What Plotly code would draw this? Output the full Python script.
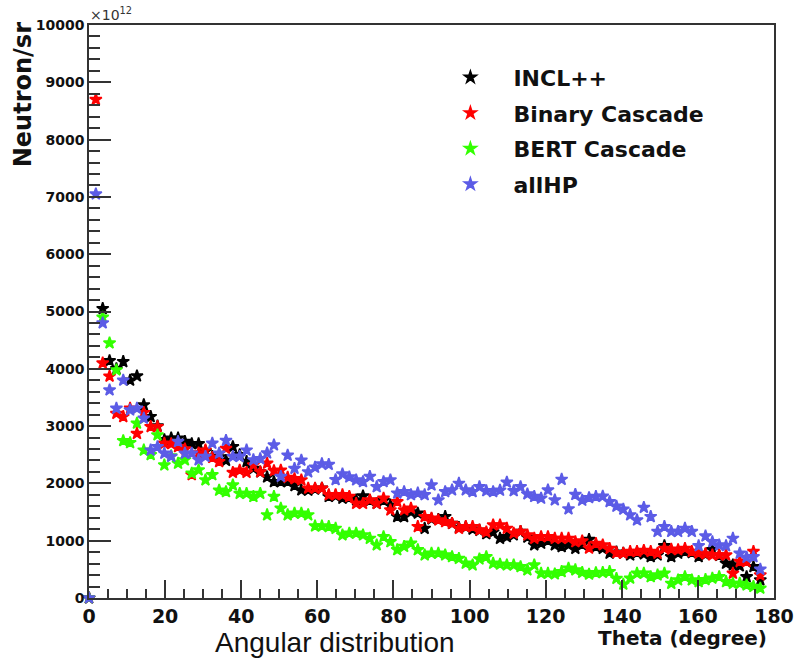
import plotly.graph_objects as go

# bin centres (degree)
theta = [0.0, 1.8, 3.6, 5.4, 7.2, 9.0, 10.8, 12.6, 14.4, 16.2, 18.0, 19.8, 21.6, 23.4, 25.2, 27.0,
         28.8, 30.6, 32.4, 34.2, 36.0, 37.8, 39.6, 41.4, 43.2, 45.0, 46.8, 48.6, 50.4, 52.2, 54.0,
         55.8, 57.6, 59.4, 61.2, 63.0, 64.8, 66.6, 68.4, 70.2, 72.0, 73.8, 75.6, 77.4, 79.2, 81.0,
         82.8, 84.6, 86.4, 88.2, 90.0, 91.8, 93.6, 95.4, 97.2, 99.0, 100.8, 102.6, 104.4, 106.2,
         108.0, 109.8, 111.6, 113.4, 115.2, 117.0, 118.8, 120.6, 122.4, 124.2, 126.0, 127.8, 129.6,
         131.4, 133.2, 135.0, 136.8, 138.6, 140.4, 142.2, 144.0, 145.8, 147.6, 149.4, 151.2, 153.0,
         154.8, 156.6, 158.4, 160.2, 162.0, 163.8, 165.6, 167.4, 169.2, 171.0, 172.8, 174.6, 176.4]

# Neutron/sr in units of 1e12
incl = [0, 11500, 5050, 4140, 4000, 4125, 3800, 3875, 3370, 3165, 3000, 2760, 2790, 2790, 2730,
        2690, 2690, 2560, 2470, 2460, 2400, 2640, 2500, 2380, 2260, 2200, 2110, 2030, 2030, 2030,
        1960, 1885, 1880, 1900, 1915, 1770, 1780, 1740, 1750, 1710, 1780, 1700, 1650, 1700, 1620,
        1420, 1420, 1500, 1480, 1215, 1380, 1370, 1420, 1300, 1230, 1240, 1200, 1180, 1120, 1150,
        1040, 1070, 1100, 1160, 1060, 925, 955, 1000, 925, 895, 925, 865, 930, 1020, 895, 865,
        780, 800, 780, 750, 790, 770, 720, 750, 910, 720, 780, 810, 790, 720, 760, 840, 740, 605,
        575, 560, 370, 545, 315]

binary = [0, 8700, 4100, 3870, 3220, 3165, 3310, 2870, 3235, 2990, 2990, 2700, 2690, 2640, 2600,
          2150, 2530, 2580, 2450, 2380, 2610, 2190, 2230, 2190, 2320, 2200, 2350, 2220, 2230, 2105,
          2080, 2060, 1915, 1915, 1915, 1800, 1800, 1800, 1770, 1650, 1650, 1710, 1650, 1740, 1535,
          1680, 1535, 1565, 1245, 1420, 1390, 1360, 1330, 1300, 1215, 1245, 1245, 1185, 1150, 1275,
          1275, 1215, 1130, 1160, 1100, 1040, 1070, 1070, 1040, 1040, 1040, 980, 995, 870, 950, 925,
          865, 790, 780, 810, 810, 830, 810, 780, 865, 850, 840, 865, 810, 780, 770, 750, 750, 750,
          430, 635, 635, 810, 400]

bert = [0, 10800, 4900, 4450, 3980, 2745, 2710, 3050, 2580, 2500, 2845, 2320, 2480, 2350, 2410,
        2175, 2235, 2060, 2150, 1880, 1855, 1970, 1825, 1825, 1770, 1825, 1450, 1770, 1565, 1450,
        1480, 1480, 1450, 1255, 1255, 1245, 1215, 1100, 1130, 1130, 1100, 1040, 925, 1070, 980,
        840, 900, 955, 840, 750, 780, 780, 750, 720, 690, 605, 575, 680, 720, 605, 590, 575, 575,
        545, 490, 575, 430, 430, 420, 460, 520, 490, 445, 415, 440, 445, 460, 340, 240, 345, 430,
        430, 370, 400, 430, 255, 315, 370, 315, 285, 320, 345, 370, 285, 255, 255, 225, 200, 170]

allhp = [0, 7050, 4800, 3630, 3310, 3800, 3280, 3310, 3135, 2580, 2640, 2525, 2470, 2730, 2525,
         2525, 2410, 2470, 2700, 2525, 2750, 2470, 2470, 2580, 2410, 2430, 2530, 2670, 2120, 2490,
         2260, 2405, 2200, 2280, 2340, 2330, 2065, 2165, 2110, 2060, 2030, 2120, 1940, 2030, 2060,
         1830, 1855, 1800, 1830, 1800, 1970, 1710, 1855, 1885, 2000, 1885, 1855, 1940, 1870, 1855,
         1880, 2020, 1870, 1940, 1815, 1770, 1740, 1885, 1710, 2070, 1555, 1805, 1705, 1750, 1770,
         1775, 1680, 1600, 1550, 1450, 1360, 1580, 1420, 1160, 1245, 1160, 1160, 1215, 1160, 910,
         1080, 980, 925, 910, 1040, 780, 710, 720, 500]

names = ["INCL++", "Binary Cascade", "BERT Cascade", "allHP"]
colors = ["#000000", "#ff0000", "#33ff00", "#5c5ce6"]
series = [incl, binary, bert, allhp]

fig = go.Figure()
for nm, col, vals in zip(names, colors, series):
    fig.add_trace(go.Scatter(
        x=theta, y=vals, mode="markers", name="<b>" + nm + "</b>", legendgroup=nm,
        marker=dict(symbol="star", size=9, color=col, line=dict(width=1.6, color=col)),
        cliponaxis=False,
    ))

tickfont_y = dict(family="DejaVu Sans", size=14, color="#111")
tickfont_x = dict(family="DejaVu Sans", size=19, color="#111")

fig.update_layout(
    width=806, height=659,
    margin=dict(l=89, r=23, t=25, b=61),
    paper_bgcolor="white", plot_bgcolor="white",
    showlegend=True,
    legend=dict(x=0.494, y=0.945, xanchor="left", yanchor="top",
                bgcolor="rgba(0,0,0,0)", borderwidth=0,
                font=dict(family="DejaVu Sans", size=22, color="#111"),
                tracegroupgap=4, itemwidth=76, traceorder="grouped"),
    xaxis=dict(range=[0, 180], dtick=20, tick0=0, ticks="inside", ticklen=18, tickwidth=1.5,
               tickcolor="#333", showline=True, linecolor="#333", linewidth=1.5, mirror=True,
               showgrid=False, zeroline=False, tickfont=tickfont_x,
               tickprefix="<b>", ticksuffix="</b>", tickformat="d",
               minor=dict(dtick=5, ticks="inside", ticklen=9, tickwidth=1.5, tickcolor="#333")),
    yaxis=dict(range=[0, 10000], dtick=1000, tick0=0, ticks="inside", ticklen=22, tickwidth=1.5,
               tickcolor="#333", showline=True, linecolor="#333", linewidth=1.5, mirror=True,
               showgrid=False, zeroline=False, tickfont=tickfont_y,
               tickprefix="<b>", ticksuffix="</b>", tickformat="d",
               minor=dict(dtick=200, ticks="inside", ticklen=11, tickwidth=1.5, tickcolor="#333")),
)

fig.add_annotation(xref="paper", yref="paper", x=-0.0965, y=1.009, xanchor="center", yanchor="top",
                   text="<b>Neutron/sr</b>", textangle=-90, showarrow=False,
                   font=dict(family="DejaVu Sans", size=24, color="#111"))
fig.add_annotation(xref="paper", yref="paper", x=0.993, y=-0.069, xanchor="right", yanchor="middle",
                   text="<b>Theta (degree)</b>", showarrow=False,
                   font=dict(family="DejaVu Sans", size=20, color="#111"))
fig.add_annotation(xref="paper", yref="paper", x=0.1816, y=-0.0785, xanchor="left", yanchor="middle",
                   text="Angular distribution", showarrow=False,
                   font=dict(family="Liberation Sans", size=28, color="#111"))
fig.add_annotation(xref="paper", yref="paper", x=-0.002, y=1.0, xanchor="left", yanchor="bottom",
                   text="×10<sup>12</sup>", showarrow=False,
                   font=dict(family="DejaVu Sans", size=14, color="#333"))

fig.write_html("out.html")
